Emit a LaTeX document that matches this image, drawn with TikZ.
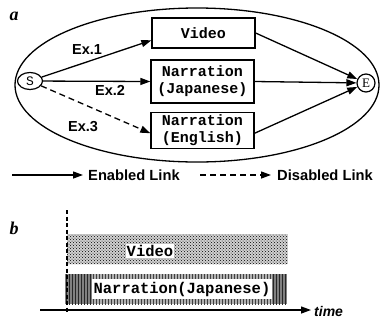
\documentclass[tikz,border=0pt]{standalone}
\usepackage{fontspec}
\setmainfont{Liberation Sans}
\newfontfamily\boxfont{Liberation Mono}
\newfontfamily\serifont{Liberation Serif}
\usetikzlibrary{patterns,arrows.meta,shapes.geometric}
\begin{document}
\begin{tikzpicture}[x=1pt,y=-1pt,
  box/.style={draw,line width=1.3pt,minimum width=103pt,inner sep=0pt,align=center,
    font=\boxfont\bfseries\fontsize{15}{17}\selectfont},
  link/.style={-{Triangle[length=10pt,width=7pt]},line width=1.3pt},
  dislink/.style={link,dash pattern=on 6pt off 4pt},
  exlab/.style={font=\bfseries\fontsize{14.5}{17}\selectfont},
  panel/.style={font=\serifont\bfseries\itshape\fontsize{18}{18}\selectfont},
  legtext/.style={anchor=west,font=\bfseries\fontsize{14.7}{17}\selectfont,inner sep=0pt},
  bartext/.style={fill=white,inner sep=1pt,font=\boxfont\bfseries\fontsize{15.5}{17}\selectfont}]
\useasboundingbox (0,0) rectangle (382,322);
% panel a
\node[panel] (la) at (14,16) {a};
\node[draw,ellipse,line width=1.3pt,minimum width=364pt,minimum height=154pt,inner sep=0pt] (frame) at (197,85) {};
\node[draw,ellipse,line width=1.2pt,minimum width=25pt,minimum height=17pt,inner sep=0pt,
  font=\boxfont\fontsize{13}{13}\selectfont] (S) at (30,81) {S};
\node[draw,circle,line width=1.2pt,minimum size=18pt,inner sep=0pt,
  font=\serifont\fontsize{13}{13}\selectfont] (E) at (366,83) {E};
\node[box,minimum height=30pt] (V) at (203.5,33) {Video};
\node[box,minimum height=43pt] (J) at (202.5,81.5) {Narration\\(Japanese)};
\node[box,minimum height=36pt] (G) at (202.5,130.5) {Narration\\(English)};
\draw[link] (S) -- (V.188);
\draw[link] (S) -- (J.west);
\draw[dislink] (S) -- (G.183);
\draw[link] (V.east) -- (E);
\draw[link] (J.east) -- (E);
\draw[link] (G.357) -- (E);
\node[exlab] (e1) at (87,50) {Ex.1};
\node[exlab] (e2) at (110,90) {Ex.2};
\node[exlab] (e3) at (83,127) {Ex.3};
% legend
\coordinate (l1) at (12,175);
\coordinate (l2) at (83,175);
\draw[link] (l1) -- (l2);
\node[legtext] (en) at (88,175) {Enabled Link};
\coordinate (d1) at (200,175);
\coordinate (d2) at (271,175);
\draw[dislink] (d1) -- (d2);
\node[legtext] (dl) at (277,175) {Disabled Link};
% panel b
\node[panel] (lb) at (14,228) {b};
\node[minimum width=221pt,minimum height=30pt,inner sep=0pt,
  preaction={fill=black!18},pattern=crosshatch dots,pattern color=black] (vb) at (177,249) {};
\node[bartext] (vt) at (150,251) {Video};
\node[minimum width=222pt,minimum height=30pt,inner sep=0pt,
  preaction={fill=black!30},pattern=vertical lines,pattern color=black!75] (nb) at (176,289) {};
\node[minimum width=27pt,minimum height=30pt,inner sep=0pt,
  preaction={fill=black!50},pattern=vertical lines,pattern color=black!85] (nl) at (78.5,289) {};
\node[minimum width=15pt,minimum height=30pt,inner sep=0pt,
  preaction={fill=black!50},pattern=vertical lines,pattern color=black!85] (nr) at (279.5,289) {};
\node[bartext,minimum width=180pt,minimum height=20pt,inner sep=0pt] (nt) at (182,289) {Narration(Japanese)};
\coordinate (t0) at (67,210);
\coordinate (t1) at (67,312);
\draw[line width=1.2pt,dash pattern=on 4pt off 2.5pt] (t0) -- (t1);
\coordinate (a0) at (40,310);
\coordinate (a1) at (311,310);
\draw[link] (a0) -- (a1);
\node[anchor=west,inner sep=0pt,font=\bfseries\itshape\fontsize{14}{17}\selectfont] (tm) at (314,311) {time};
\end{tikzpicture}
\end{document}
